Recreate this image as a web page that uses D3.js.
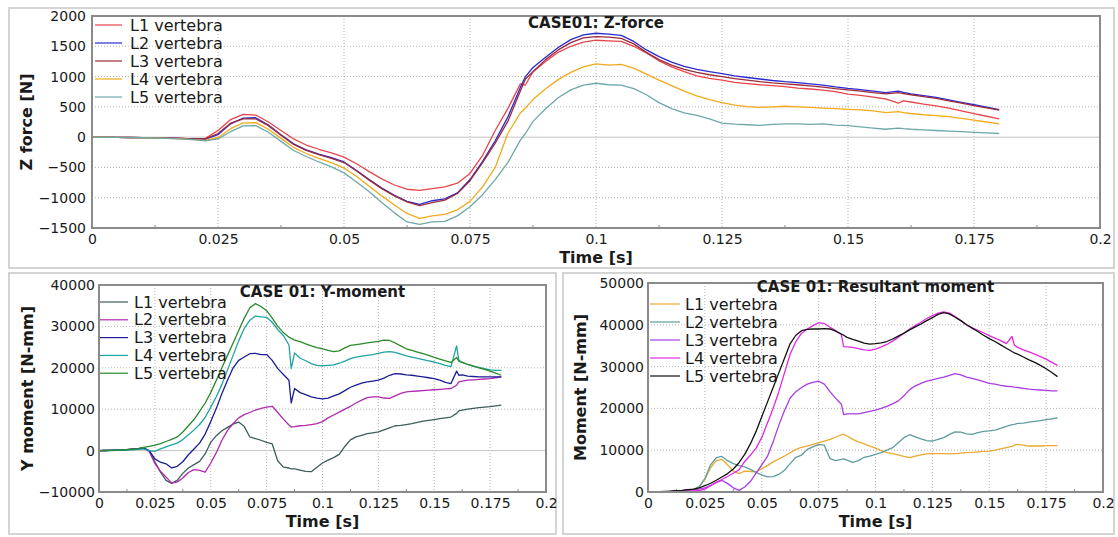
<!DOCTYPE html>
<html>
<head>
<meta charset="utf-8">
<script src="https://cdn.jsdelivr.net/npm/d3@7"></script>
<style>
  body { margin: 0; background: #fff; }
  svg text { font-family: "DejaVu Sans", Verdana, sans-serif; fill: #1a1a1a; }
</style>
</head>
<body>
<svg id="chart" width="1118" height="537"></svg>
<script>
// sample times (s), shared by every series
var time = [0, 0.0025, 0.005, 0.0075, 0.01, 0.0125, 0.015, 0.0175, 0.02, 0.0225,
  0.025, 0.0275, 0.03, 0.0325, 0.035, 0.0375, 0.04, 0.0425, 0.045, 0.0475,
  0.05, 0.0525, 0.055, 0.0575, 0.06, 0.0625, 0.065, 0.0675, 0.07, 0.0725,
  0.075, 0.0775, 0.08, 0.0825, 0.085, 0.086, 0.0875, 0.09, 0.0925, 0.095,
  0.0975, 0.1, 0.1025, 0.105, 0.1075, 0.11, 0.1125, 0.115, 0.1175, 0.12,
  0.1225, 0.125, 0.1275, 0.13, 0.1325, 0.135, 0.1375, 0.14, 0.1425, 0.145,
  0.1475, 0.15, 0.1525, 0.155, 0.1575, 0.16, 0.161, 0.1625, 0.165, 0.1675,
  0.17, 0.1725, 0.175, 0.1775, 0.18];

var xTicks = [0, 0.025, 0.05, 0.075, 0.1, 0.125, 0.15, 0.175, 0.2];
var xTickLabels = ["0", "0.025", "0.05", "0.075", "0.1", "0.125", "0.15", "0.175", "0.2"];
var seriesNames = ["L1 vertebra", "L2 vertebra", "L3 vertebra", "L4 vertebra", "L5 vertebra"];

// CASE01: Z-force [N]
var zTicks = [-1500, -1000, -500, 0, 500, 1000, 1500, 2000];
var zL1 = [0, -2, -4, -6, -8, -12, -16, -22, -30, -20,
  110, 290, 375, 365, 250, 110, -30, -130, -200, -260,
  -330, -440, -570, -690, -790, -860, -880, -850, -820, -760,
  -600, -300, 110, 470, 880, 860, 1080, 1250, 1400, 1500,
  1570, 1600, 1590, 1580, 1500, 1390, 1260, 1160, 1080, 1010,
  970, 940, 905, 885, 865, 850, 835, 810, 795, 775,
  750, 710, 690, 660, 630, 560, 600, 580, 545, 515,
  480, 435, 390, 345, 300];
var zL2 = [0, -2, -4, -6, -8, -12, -16, -22, -30, -35,
  40, 220, 315, 320, 200, 40, -110, -210, -280, -340,
  -410, -550, -700, -840, -960, -1060, -1110, -1050, -1020, -920,
  -700, -400, -60, 330, 820, 1000, 1150, 1320, 1480, 1610,
  1690, 1715, 1700, 1680, 1580, 1440, 1330, 1240, 1170, 1120,
  1080, 1050, 1010, 985, 960, 935, 915, 900, 880, 860,
  830, 805, 785, 760, 735, 760, 740, 715, 685, 655,
  615, 575, 535, 495, 455];
var zL3 = [0, -2, -4, -6, -8, -12, -16, -22, -30, -30,
  60, 230, 300, 300, 190, 30, -120, -220, -290, -350,
  -420, -560, -710, -850, -970, -1070, -1130, -1080, -1040, -930,
  -720, -420, -100, 260, 760, 960, 1080, 1280, 1440, 1560,
  1640, 1660, 1650, 1630, 1540, 1400, 1280, 1190, 1120, 1070,
  1030, 1000, 965, 940, 915, 895, 880, 865, 845, 825,
  800, 780, 760, 735, 715, 735, 720, 700, 670, 640,
  600, 560, 520, 485, 445];
var zL4 = [0, -2, -4, -6, -10, -14, -20, -28, -40, -55,
  -10, 140, 235, 240, 130, -20, -170, -270, -350, -420,
  -510, -650, -810, -970, -1120, -1260, -1340, -1300, -1275, -1200,
  -1060, -820, -500, 60, 400, 480, 620, 800, 950, 1070,
  1160, 1210, 1190, 1200, 1140, 1040, 940, 850, 760, 680,
  620, 570, 530, 505, 490, 500, 510, 500, 490, 480,
  470, 460, 450, 435, 405, 420, 405, 390, 370, 355,
  340, 310, 280, 250, 220];
var zL5 = [0, -2, -4, -6, -10, -14, -20, -28, -40, -60,
  -30, 90, 185, 190, 80, -70, -220, -320, -410, -490,
  -590, -740, -900, -1080, -1250, -1400, -1440, -1400, -1390, -1300,
  -1150, -950, -700, -420, -50, 60, 260, 470, 650, 780,
  860, 890, 865, 860, 800, 700, 570, 470, 400, 360,
  300, 230, 215, 205, 195, 210, 220, 220, 210, 220,
  200, 190, 170, 150, 130, 150, 140, 130, 120, 110,
  100, 90, 80, 70, 60];
var zColors = ["#e8454a", "#2a2ad0", "#9c2b3a", "#f2aa1c", "#6fa8a8"];

// CASE 01: Y-moment [N-mm]
var yTicks = [-10000, 0, 10000, 20000, 30000, 40000];
var yL1 = [0, 20, 50, 100, 150, 250, 350, 450, 600, -100,
  -2700, -5200, -7200, -7900, -7200, -5500, -4200, -3400, -2600, -800,
  2000, 3600, 4800, 5600, 6400, 6900, 5800, 3300, 2900, 2500,
  2000, 1600, -2500, -4000, -4200, -4400, -4400, -4700, -5000, -5100,
  -4000, -3000, -2300, -1700, -900, 1000, 2600, 3300, 3700, 4100,
  4300, 4500, 5000, 5500, 6000, 6100, 6300, 6500, 6800, 7100,
  7300, 7500, 7700, 7900, 8100, 9000, 9600, 9800, 10000, 10200,
  10400, 10500, 10600, 10800, 11000];
var yL2 = [0, 20, 50, 100, 150, 250, 350, 450, 600, -200,
  -3100, -5000, -6400, -7800, -7600, -6600, -5300, -4600, -4800, -5200,
  -3000, -500, 2500, 4900, 6500, 7900, 8700, 9200, 9800, 10200,
  10500, 10700, 9200, 7600, 6200, 5700, 5800, 6000, 6100, 6300,
  6500, 7000, 7900, 8600, 9300, 10000, 10700, 11500, 12200, 12800,
  13000, 13000, 12700, 12600, 13200, 13800, 14200, 14300, 14400, 14500,
  14600, 14700, 14800, 14900, 15000, 15800, 16600, 16800, 17000, 17100,
  17200, 17300, 17400, 17600, 17800];
var yL3 = [0, 20, 50, 100, 150, 250, 350, 450, 600, 0,
  -2000, -2800, -3200, -4200, -3800, -2700, -1000, 400, 1800, 4000,
  7000, 10200, 13800, 17000, 20000, 21800, 22600, 23400, 23500, 23200,
  23200, 21800, 19800, 18400, 17000, 11500, 15000, 14000, 13500, 13000,
  12700, 12500, 12700, 13200, 13700, 14500, 15300, 15800, 16300, 16600,
  16800, 17000, 17500, 18200, 18600, 18500, 18300, 18200, 18000, 17800,
  17600, 17400, 17000, 16500, 16200, 19200, 18200, 18300, 18000, 17900,
  17800, 17800, 17800, 17800, 17800];
var yL4 = [0, 10, 30, 60, 100, 150, 200, 300, 400, 0,
  -200, 400, 900, 1400, 1800, 2700, 3800, 5000, 6300, 8000,
  10500, 13000, 16000, 19500, 23000, 26500, 29500, 31500, 32500, 32300,
  32200, 31000, 29200, 27800, 25500, 19800, 23600, 22300, 21700, 21000,
  20600, 20500, 20600, 20700, 21100, 21600, 22200, 22600, 22800, 23000,
  23200, 23500, 23800, 23900, 23700, 23300, 22900, 22600, 22300, 22000,
  21700, 21400, 21000, 20600, 20300, 25300, 21800, 21300, 20800, 20400,
  20100, 19800, 19500, 19400, 19400];
var yL5 = [0, 20, 50, 100, 150, 250, 350, 500, 800, 1000,
  1300, 1700, 2200, 2700, 3300, 4500, 6000, 7500, 9500, 11500,
  14000, 17000, 20000, 23000, 26000, 29000, 32000, 34500, 35500, 34800,
  33800, 32000, 30000, 28500, 27400, 27100, 26700, 26300, 25800, 25300,
  24900, 24600, 24200, 23900, 24100, 24800, 25400, 25600, 25800, 26000,
  26200, 26400, 26700, 26600, 26000, 25300, 24600, 24200, 23800, 23400,
  23000, 22500, 22100, 21700, 21300, 22500, 21600, 21300, 20800, 20400,
  20000, 19600, 19200, 18700, 18200];
var yColors = ["#3f5c5c", "#b02ab0", "#1c1c96", "#1fa3a3", "#2a8a2a"];

// CASE 01: Resultant moment [N-mm]
var rTicks = [0, 10000, 20000, 30000, 40000, 50000];
var rL1 = [0, 20, 60, 100, 150, 250, 350, 450, 600, 1300,
  3000, 5800, 7500, 7800, 6500, 5000, 4400, 5000, 4900, 4800,
  5600, 6300, 7200, 7900, 8600, 9400, 10200, 10700, 11000, 11400,
  11800, 12200, 12600, 13100, 13700, 13800, 13400, 12600, 12000, 11500,
  11000, 10500, 9900, 9400, 9200, 8900, 8500, 8200, 8600, 8900,
  9100, 9200, 9200, 9200, 9100, 9200, 9300, 9400, 9500, 9600,
  9700, 9800, 10000, 10300, 10600, 10900, 11200, 11400, 11200, 11000,
  11000, 11000, 11100, 11100, 11100];
var rL2 = [0, 20, 60, 100, 150, 250, 350, 450, 600, 1300,
  3200, 6500, 8200, 8500, 7500, 6800, 6300, 6000, 5400, 4700,
  4100, 3600, 3700, 4200, 5200, 6800, 8300, 8800, 10200, 10800,
  11400, 11200, 8000, 7500, 7800, 7900, 7600, 7100, 7500, 8300,
  8600, 9000, 9400, 10000, 10600, 11800, 13000, 13700, 13200, 12700,
  12300, 12200, 12600, 13000, 13800, 14400, 14300, 13900, 13800, 14200,
  14500, 14600, 14800, 15200, 15700, 16100, 16200, 16400, 16500, 16700,
  16900, 17100, 17300, 17500, 17700];
var rL3 = [0, 20, 60, 100, 150, 250, 350, 450, 500, 700,
  1000, 1600, 2300, 2800, 2000, 1000, 400, 1200, 2500, 4500,
  6500, 8500, 12000, 16000, 19500, 22500, 24000, 25000, 25800, 26200,
  26500, 25800, 24000, 22400, 21000, 18500, 18700, 18700, 18700, 19000,
  19300, 19600, 20000, 20500, 21100, 21800, 23000, 24500, 25400, 26000,
  26500, 26800, 27200, 27500, 27900, 28300, 28000, 27500, 27200, 26800,
  26400, 26000, 25800, 25500, 25300, 25200, 25100, 25000, 24800, 24600,
  24500, 24400, 24300, 24200, 24200];
var rL4 = [0, 20, 60, 100, 150, 250, 350, 450, 500, 300,
  700, 1500, 2300, 3000, 3700, 4500, 5300, 7300, 8800, 10500,
  13000, 16500, 20000, 24000, 28500, 33000, 36000, 38000, 39000, 39800,
  40500, 40300, 39400, 38600, 37600, 34800, 34700, 34600, 34300, 34000,
  33900, 34200, 34700, 35300, 36100, 37000, 38000, 39000, 39800, 40600,
  41500, 42200, 42800, 43100, 42800, 42000, 41000, 40000, 39300, 38700,
  38100, 37400, 36800, 36200, 35500, 37200, 35200, 34600, 34000, 33500,
  33000, 32400, 31800, 31000, 30300];
var rL5 = [0, 20, 60, 120, 200, 300, 400, 550, 700, 1000,
  1500, 2100, 2800, 3600, 4400, 5500, 7000, 9000, 11500, 14500,
  18000, 21500, 25000, 28500, 32000, 35500, 37500, 38600, 38900, 39000,
  39000, 39100, 39000, 38500, 37800, 37500, 37000, 36500, 36100, 35600,
  35400, 35500, 35700, 36000, 36600, 37300, 38000, 38800, 39500, 40200,
  41000, 41700, 42500, 42900, 42600, 41800, 41000, 40000, 39200, 38400,
  37500, 36700, 36000, 35200, 34400, 33600, 33300, 33000, 32300, 31600,
  31000, 30300, 29500, 28600, 27600];
var rColors = ["#eaa932", "#5f9c9c", "#a93de0", "#e02ae0", "#111111"];

var svg = d3.select("#chart");

function drawPanel(p) {
  var g = svg.append("g");

  // panel frame
  g.append("rect")
    .attr("x", p.frame[0]).attr("y", p.frame[1])
    .attr("width", p.frame[2]).attr("height", p.frame[3])
    .attr("fill", "#fff").attr("stroke", "#d4d4d4").attr("stroke-width", 2);

  var x = d3.scaleLinear().domain([0, 0.2]).range([p.left, p.right]);
  var y = d3.scaleLinear()
    .domain([p.yTicks[0], p.yTicks[p.yTicks.length - 1]])
    .range([p.bottom, p.top]);

  // grid
  g.selectAll(".vgrid").data(xTicks.slice(1, -1)).enter().append("line")
    .attr("x1", function(d) { return x(d); }).attr("x2", function(d) { return x(d); })
    .attr("y1", p.top).attr("y2", p.bottom)
    .attr("stroke", "#b4b4b4").attr("stroke-dasharray", "1,2");
  g.selectAll(".hgrid").data(p.yTicks.slice(1, -1)).enter().append("line")
    .attr("x1", p.left).attr("x2", p.right)
    .attr("y1", function(d) { return y(d); }).attr("y2", function(d) { return y(d); })
    .attr("stroke", function(d) { return d === 0 ? "#c4c4c4" : "#b4b4b4"; })
    .attr("stroke-dasharray", function(d) { return d === 0 ? null : "1,2"; });

  // minor ticks on the time axis
  var minor = xTicks.slice(0, -1).map(function(d, i) { return (d + xTicks[i + 1]) / 2; });
  g.selectAll(".minor").data(minor).enter().append("line")
    .attr("x1", function(d) { return x(d); }).attr("x2", function(d) { return x(d); })
    .attr("y1", p.bottom).attr("y2", p.bottom - 3)
    .attr("stroke", "#888");

  // series
  var line = d3.line()
    .x(function(d, i) { return x(time[i]); })
    .y(function(d) { return y(d); });
  p.series.forEach(function(s, k) {
    g.append("path")
      .attr("d", line(s))
      .attr("fill", "none")
      .attr("stroke", p.colors[k])
      .attr("stroke-width", 1.3)
      .attr("stroke-linejoin", "round");
  });

  // plot border
  g.append("rect")
    .attr("x", p.left).attr("y", p.top)
    .attr("width", p.right - p.left).attr("height", p.bottom - p.top)
    .attr("fill", "none").attr("stroke", "#8a8a8a").attr("stroke-width", 2);

  // axes
  var xAxis = g.append("g")
    .attr("transform", "translate(0," + p.bottom + ")")
    .call(d3.axisBottom(x).tickValues(xTicks)
      .tickFormat(function(d, i) { return xTickLabels[i]; })
      .tickSize(0).tickPadding(6));
  var yAxis = g.append("g")
    .attr("transform", "translate(" + p.left + ",0)")
    .call(d3.axisLeft(y).tickValues(p.yTicks).tickFormat(d3.format("d"))
      .tickSize(0).tickPadding(p.yPad));
  [xAxis, yAxis].forEach(function(a) {
    a.select(".domain").remove();
    a.selectAll("text").attr("font-size", 14).attr("font-family", "DejaVu Sans").attr("fill", "#1a1a1a");
  });

  // titles
  g.append("text")
    .attr("x", (p.left + p.right) / 2).attr("y", p.titleY)
    .attr("text-anchor", "middle").attr("font-size", 15).attr("font-weight", "bold")
    .text(p.title);
  g.append("text")
    .attr("x", (p.left + p.right) / 2).attr("y", p.xLabelY)
    .attr("text-anchor", "middle").attr("font-size", 16).attr("font-weight", "bold")
    .text("Time [s]");
  g.append("text")
    .attr("transform", "translate(" + p.yLabelX + "," + (p.top + p.bottom) / 2 + ") rotate(-90)")
    .attr("text-anchor", "middle").attr("dy", "0.35em")
    .attr("font-size", 16).attr("font-weight", "bold")
    .text(p.yLabel);

  // legend
  var leg = g.selectAll(".leg").data(seriesNames).enter().append("g")
    .attr("transform", function(d, i) { return "translate(0," + (p.legY + i * p.legDy) + ")"; });
  leg.append("line")
    .attr("x1", p.legX[0]).attr("x2", p.legX[1]).attr("y1", 0).attr("y2", 0)
    .attr("stroke", function(d, i) { return p.colors[i]; }).attr("stroke-width", 1.2);
  leg.append("text")
    .attr("x", p.legX[2]).attr("y", 0).attr("dy", "0.35em")
    .attr("font-size", 16)
    .text(function(d) { return d; });
}

drawPanel({
  frame: [9, 8, 1105, 260],
  left: 92, right: 1100, top: 16, bottom: 228,
  yTicks: zTicks, yPad: 6,
  series: [zL1, zL2, zL3, zL4, zL5], colors: zColors,
  title: "CASE01: Z-force", titleY: 28,
  xLabelY: 263, yLabel: "Z force [N]", yLabelX: 26,
  legX: [95, 122, 130], legY: 25, legDy: 18
});

drawPanel({
  frame: [9, 273, 547, 261],
  left: 99, right: 546, top: 285, bottom: 492,
  yTicks: yTicks, yPad: 4,
  series: [yL1, yL2, yL3, yL4, yL5], colors: yColors,
  title: "CASE 01: Y-moment", titleY: 297,
  xLabelY: 527, yLabel: "Y moment [N-mm]", yLabelX: 27,
  legX: [100, 128, 134], legY: 302, legDy: 17.8
});

drawPanel({
  frame: [563, 273, 551, 261],
  left: 648, right: 1103, top: 283, bottom: 492,
  yTicks: rTicks, yPad: 4,
  series: [rL1, rL2, rL3, rL4, rL5], colors: rColors,
  title: "CASE 01: Resultant moment", titleY: 292,
  xLabelY: 527, yLabel: "Moment [N-mm]", yLabelX: 580,
  legX: [650, 680, 685], legY: 304, legDy: 18
});
</script>
</body>
</html>
